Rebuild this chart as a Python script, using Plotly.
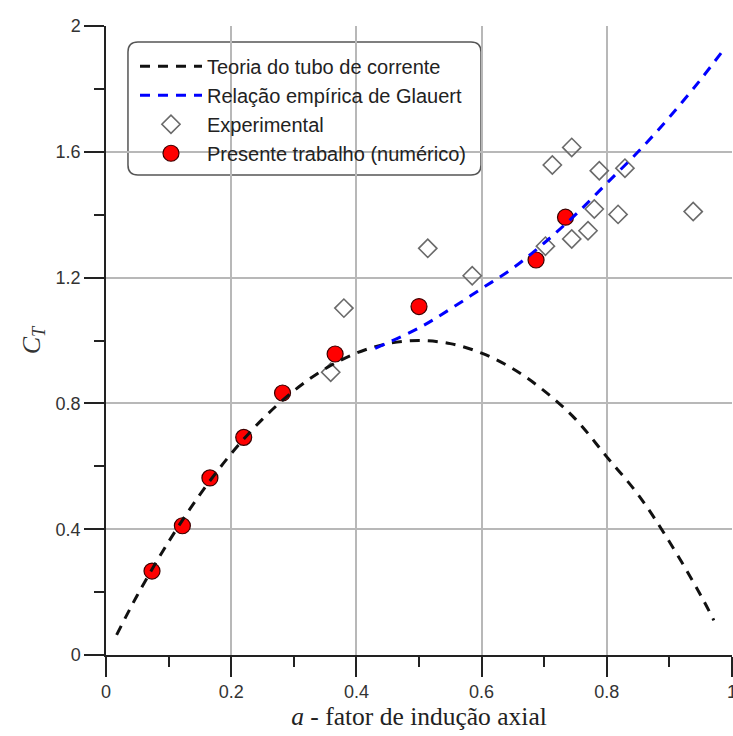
import plotly.graph_objects as go

# Teoria do tubo de corrente
teoria_a = [0.017, 0.05, 0.10, 0.15, 0.20, 0.25, 0.30, 0.35, 0.40, 0.45, 0.50,
            0.55, 0.60, 0.65, 0.70, 0.75, 0.80, 0.85, 0.90, 0.95, 0.971]
teoria_ct = [0.064, 0.19, 0.36, 0.51, 0.64, 0.75, 0.84, 0.91, 0.96, 0.99, 1.00,
             0.99, 0.96, 0.91, 0.84, 0.75, 0.63, 0.51, 0.36, 0.19, 0.11]

# Relação empírica de Glauert
glauert_a = [0.43, 0.50, 0.55, 0.60, 0.65, 0.70, 0.75, 0.80, 0.85, 0.90, 0.95, 0.987]
glauert_ct = [0.975, 1.04, 1.10, 1.165, 1.23, 1.31, 1.40, 1.50, 1.60, 1.71, 1.83, 1.926]

# Experimental
exp_a = [0.359, 0.380, 0.514, 0.585, 0.702, 0.713, 0.744, 0.744, 0.770, 0.780,
         0.788, 0.818, 0.829, 0.938]
exp_ct = [0.899, 1.103, 1.293, 1.206, 1.300, 1.558, 1.614, 1.323, 1.349, 1.418,
          1.540, 1.401, 1.548, 1.410]

# Presente trabalho (numérico)
num_a = [0.0735, 0.122, 0.166, 0.220, 0.282, 0.366, 0.500, 0.687, 0.734]
num_ct = [0.267, 0.411, 0.563, 0.692, 0.833, 0.957, 1.108, 1.256, 1.392]

x_ticks = [0, 0.2, 0.4, 0.6, 0.8, 1.0]
x_ticktext = ["0", "0.2", "0.4", "0.6", "0.8", "1"]
y_ticks = [0, 0.4, 0.8, 1.2, 1.6, 2.0]
y_ticktext = ["0", "0.4", "0.8", "1.2", "1.6", "2"]

fig = go.Figure()

fig.add_trace(go.Scatter(
    x=exp_a, y=exp_ct, mode="markers", name="Experimental", legendrank=3,
    marker=dict(symbol="diamond-open", size=14, color="#6a6a6a", line=dict(width=1.6, color="#6a6a6a")),
))
fig.add_trace(go.Scatter(
    x=num_a, y=num_ct, mode="markers", name="Presente trabalho (numérico)", legendrank=4,
    marker=dict(symbol="circle", size=16, color="#ff0000", line=dict(width=1.2, color="#3a0000")),
))
fig.add_trace(go.Scatter(
    x=teoria_a, y=teoria_ct, mode="lines", name="Teoria do tubo de corrente", legendrank=1,
    line=dict(color="#111111", width=3, dash="10px,8px", shape="spline"),
))
fig.add_trace(go.Scatter(
    x=glauert_a, y=glauert_ct, mode="lines", name="Relação empírica de Glauert", legendrank=2,
    line=dict(color="#0000ff", width=3, dash="10px,8px", shape="spline"),
))

tickfont = dict(family="Liberation Sans, Arial, sans-serif", size=18, color="#333333")

# rounded legend frame (paper coordinates)
x0, x1, y0, y1 = 0.0351, 0.599, 0.7631, 0.9746
rx, ry = 10 / 626, 10 / 629
frame_path = (
    f"M {x0+rx},{y1} L {x1-rx},{y1} Q {x1},{y1} {x1},{y1-ry} "
    f"L {x1},{y0+ry} Q {x1},{y0} {x1-rx},{y0} L {x0+rx},{y0} "
    f"Q {x0},{y0} {x0},{y0+ry} L {x0},{y1-ry} Q {x0},{y1} {x0+rx},{y1} Z"
)

fig.update_layout(
    width=733, height=736,
    margin=dict(l=106, r=1, t=26, b=81, autoexpand=False),
    paper_bgcolor="white", plot_bgcolor="white",
    showlegend=True,
    shapes=[dict(type="path", path=frame_path, xref="paper", yref="paper",
                 fillcolor="white", line=dict(color="#555555", width=1.5), layer="between")],
    legend=dict(
        x=0.0463, y=0.967, xanchor="left", yanchor="top",
        bgcolor="rgba(0,0,0,0)", borderwidth=0,
        font=dict(family="Liberation Sans, Arial, sans-serif", size=20, color="#222222"),
        tracegroupgap=0, itemwidth=62,
    ),
    xaxis=dict(
        range=[0, 1], tickvals=x_ticks, ticktext=x_ticktext,
        ticks="outside", ticklen=20, tickwidth=1.5, tickcolor="#222222",
        ticklabeloverflow="allow", automargin=False,
        showline=True, linecolor="#222222", linewidth=1.5,
        showgrid=True, gridcolor="#b8b8b8", gridwidth=1.5, zeroline=False,
        minor=dict(dtick=0.1, tick0=0, ticks="outside", ticklen=10, tickwidth=1.5,
                   tickcolor="#222222", showgrid=False),
        tickfont=tickfont,
        title=dict(text="<i>a</i> - fator de indução axial",
                   font=dict(family="Liberation Serif, Times New Roman, serif", size=25.5, color="#222222"),
                   standoff=2),
    ),
    yaxis=dict(
        range=[0, 2], tickvals=y_ticks, ticktext=y_ticktext,
        ticks="outside", ticklen=20, tickwidth=1.5, tickcolor="#222222",
        ticklabeloverflow="allow", automargin=False,
        showline=True, linecolor="#222222", linewidth=1.5,
        showgrid=True, gridcolor="#b8b8b8", gridwidth=1.5, zeroline=False,
        minor=dict(dtick=0.2, tick0=0, ticks="outside", ticklen=10, tickwidth=1.5,
                   tickcolor="#222222", showgrid=False),
        tickfont=tickfont,
        title=dict(text="<i>C<sub>T</sub></i>",
                   font=dict(family="Liberation Serif, Times New Roman, serif", size=26, color="#333333"),
                   standoff=8),
    ),
)

fig.write_html("out.html")
